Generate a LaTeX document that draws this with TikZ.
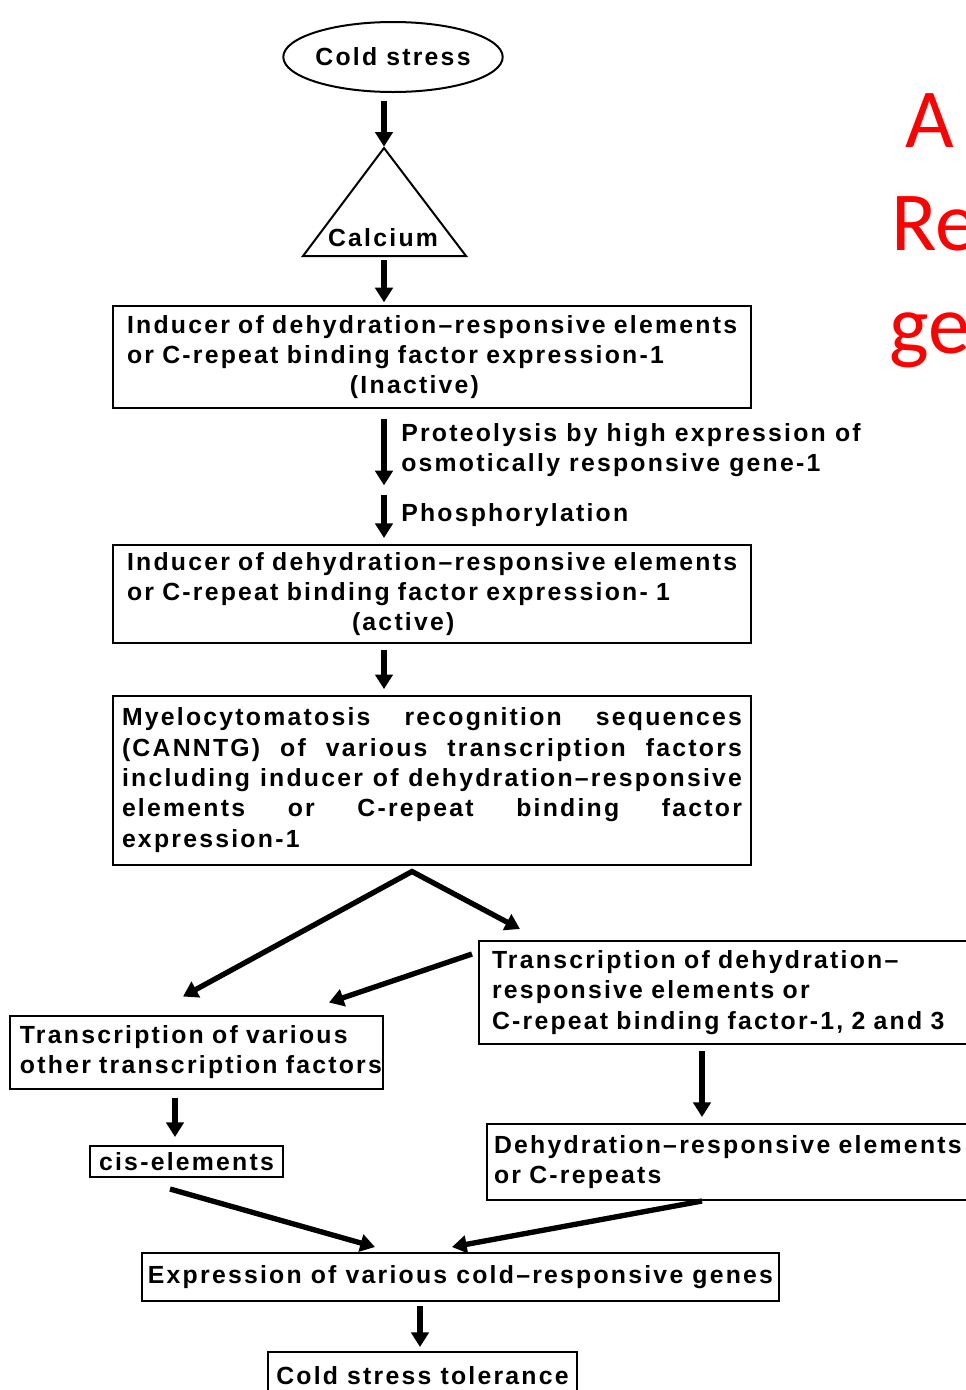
\documentclass[tikz,border=0pt]{standalone}
\usepackage{fontspec}
\usetikzlibrary{arrows.meta,shapes.geometric}
\newfontfamily\diagfont[LetterSpace=9]{Liberation Sans}
\newfontfamily\notefont{Carlito}
\definecolor{NoteRed}{HTML}{FF0000}
\newlength\px \setlength\px{0.75pt}
\newcommand\bodyfont{\diagfont\bfseries\fontsize{18.6pt}{22.8pt}\selectfont}
\tikzset{
  box/.style={draw,line width=1.5pt,inner ysep=0pt,align=left,font=\bodyfont},
  oval/.style={draw,ellipse,line width=1.5pt,inner sep=0pt,font=\bodyfont},
  txt/.style={inner sep=0pt,align=left,font=\bodyfont},
  note/.style={inner sep=0pt,anchor=base west,text=NoteRed,font=\notefont\fontsize{63pt}{75pt}\selectfont},
  arr/.style={line width=4pt,-{Triangle[length=11pt,width=13pt]}},
  fork/.style={line width=4pt,line join=miter,{Triangle[length=11pt,width=13pt]}-{Triangle[length=11pt,width=13pt]}}
}
\begin{document}
\begin{tikzpicture}[x=\px,y=-\px]
\useasboundingbox (0,0) rectangle (965,1390);
\coordinate (colA) at (384,0);
\coordinate (colB) at (175,0);
\coordinate (colC) at (702,0);
\coordinate (colD) at (420,0);

\node[oval,minimum width=213\px,minimum height=70\px] (cold) at (393,57) {Cold stress};
\coordinate (apex) at (384,148);
\coordinate (base) at (384,256);
\draw[line width=1.5pt] (apex) -- (466,256) -- (303,256) -- cycle;
\node[txt] (calcium) at (383,238) {Calcium};

\node[box,text width=610\px,inner xsep=14\px,minimum height=102\px] (inducer) at (432,357)
  {Inducer of dehydration–responsive elements\\or C-repeat binding factor expression-1\\\hspace*{223\px}(Inactive)};
\coordinate (split) at (384,490);
\node[txt,anchor=west] (proteo) at (401,450) {Proteolysis by high expression of\\osmotically responsive gene-1};
\node[txt,anchor=west] (phospho) at (401,515) {Phosphorylation};
\node[box,text width=610\px,inner xsep=14\px,minimum height=98\px] (active) at (432,594)
  {Inducer of dehydration–responsive elements\\or C-repeat binding factor expression- 1\\\hspace*{225\px}(active)};
\node[box,align=justify,text width=620\px,inner xsep=9\px,minimum height=169\px] (myc) at (432,780)
  {Myelocytomatosis recognition sequences\linebreak (CANNTG) of various transcription factors\linebreak including inducer of dehydration–responsive\linebreak elements or C-repeat binding factor\linebreak expression-1};

\node[box,anchor=west,text width=474\px,inner xsep=13\px,minimum height=103\px] (dreb) at (478,992.5)
  {Transcription of dehydration–\\responsive elements or\\C-repeat binding factor-1, 2 and 3};
\node[box,text width=353\px,inner xsep=10\px,minimum height=73\px] (others) at (196.5,1052)
  {Transcription of various\\\mbox{other transcription factors}};
\node[box,inner xsep=0pt,minimum width=193\px,minimum height=31\px] (cis) at (186.5,1161.5) {cis-elements};
\node[box,anchor=west,text width=486\px,inner xsep=7\px,minimum height=76\px] (dre) at (486,1162)
  {Dehydration–responsive elements\\or C-repeats};
\node[box,inner xsep=0pt,minimum width=637\px,minimum height=48\px] (expr) at (460.5,1277)
  {Expression of various cold–responsive genes};
\node[box,inner xsep=0pt,minimum width=309\px,minimum height=48\px] (tol) at (422.5,1376) {Cold stress tolerance};

\node[note] (noteA) at (905,147) {A};
\node[note] (noteB) at (891,250) {Re};
\node[note] (noteC) at (889,353) {ge};

\draw[arr,shorten <=6pt,shorten >=1pt] (cold.south -| colA) -- (apex);
\draw[arr,shorten <=3pt,shorten >=2pt] (base) -- (inducer.north -| colA);
\draw[arr,shorten <=7.5pt,shorten >=3.5pt] (inducer.south -| colA) -- (split);
\draw[arr,shorten <=3.5pt,shorten >=4.5pt] (split) -- (active.north -| colA);
\draw[arr,shorten <=4.5pt,shorten >=4pt] (active.south -| colA) -- (myc.north -| colA);
\draw[fork] ([shift={(-13.5,-18)}]others.north) -- ([shift={(-20,6)}]myc.south) -- ([shift={(42,-11)}]dreb.north west);
\draw[arr] ([shift={(-6,14)}]dreb.north west) -- ([shift={(-55,-12)}]others.north east);
\draw[arr,shorten <=6pt,shorten >=6pt] (others.south -| colB) -- (cis.north -| colB);
\draw[arr,shorten <=4.5pt,shorten >=4.5pt] (dreb.south -| colC) -- (dre.north -| colC);
\draw[arr] ([shift={(-16.5,11)}]cis.south) -- ([shift={(-85.5,-5)}]expr.north);
\draw[arr] (dre.south -| colC) -- ([shift={(-8.5,-5)}]expr.north);
\draw[arr,shorten <=3pt,shorten >=3pt] (expr.south -| colD) -- (tol.north -| colD);
\end{tikzpicture}
\end{document}
